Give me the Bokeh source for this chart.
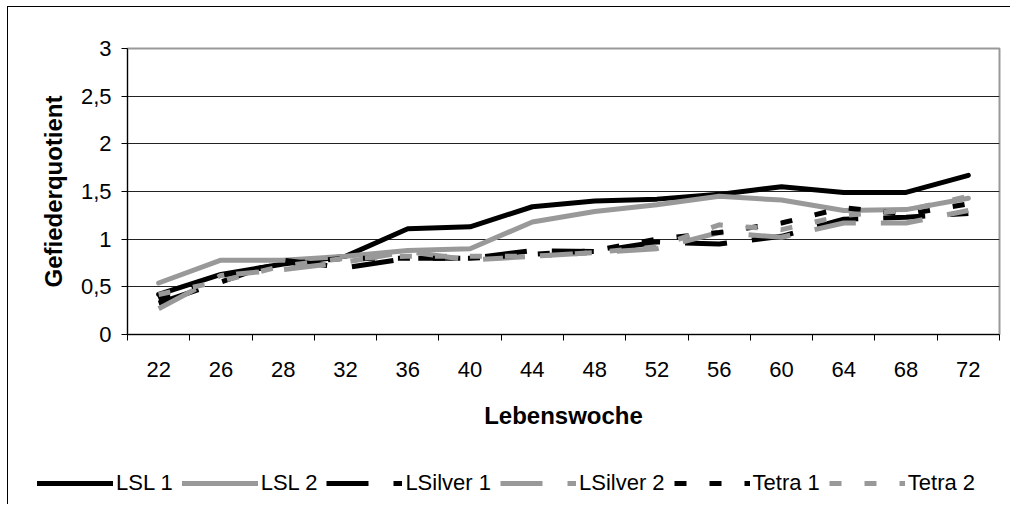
import numpy as np
from bokeh.plotting import figure
from bokeh.layouts import column
from bokeh.models import FixedTicker, Legend, LegendItem
from bokeh.embed import file_html
from bokeh.resources import INLINE

weeks = ["22", "26", "28", "32", "36", "40", "44", "48", "52", "56", "60", "64", "68", "72"]
lsl1 = [0.42, 0.63, 0.74, 0.82, 1.11, 1.13, 1.34, 1.40, 1.42, 1.47, 1.55, 1.49, 1.49, 1.67]
lsl2 = [0.54, 0.78, 0.78, 0.82, 0.88, 0.90, 1.18, 1.29, 1.36, 1.45, 1.41, 1.30, 1.31, 1.43]
lsilver1 = [0.33, 0.55, 0.78, 0.70, 0.80, 0.80, 0.88, 0.87, 0.97, 0.95, 1.03, 1.21, 1.23, 1.27]
lsilver2 = [0.27, 0.62, 0.68, 0.76, 0.87, 0.78, 0.82, 0.86, 0.90, 1.07, 1.02, 1.17, 1.17, 1.30]
tetra1 = [0.37, 0.62, 0.74, 0.80, 0.80, 0.80, 0.84, 0.88, 1.00, 1.07, 1.17, 1.33, 1.26, 1.37]
tetra2 = [0.42, 0.56, 0.72, 0.80, 0.82, 0.82, 0.82, 0.86, 0.92, 1.15, 1.10, 1.25, 1.30, 1.45]
y_ticks = [0, 0.5, 1, 1.5, 2, 2.5, 3]
y_labels = ["0", "0,5", "1", "1,5", "2", "2,5", "3"]

series = [
    ("LSL 1", lsl1, "black", None),
    ("LSL 2", lsl2, "#999999", None),
    ("LSilver 1", lsilver1, "black", "42 25"),
    ("LSilver 2", lsilver2, "#999999", "42 25"),
    ("Tetra 1", tetra1, "black", "12 23"),
    ("Tetra 2", tetra2, "#999999", "12 23"),
]

n = len(weeks)
xs = np.arange(n) + 0.5

FONT = "Liberation Sans"

p = figure(width=1002, height=437, output_backend="svg", toolbar_location=None,
           x_range=(0, n), y_range=(0, 3),
           min_border_left=119, min_border_top=41, min_border_right=11, min_border_bottom=110)
p.frame_align = False

p.outline_line_color = "#999999"
p.outline_line_width = 2
p.background_fill_color = "white"
p.border_fill_color = "white"

# x axis
p.xaxis.ticker = FixedTicker(ticks=list(xs), minor_ticks=list(range(n + 1)))
p.xaxis.major_label_overrides = {float(x): w for x, w in zip(xs, weeks)}
p.xaxis.major_tick_out = 0
p.xaxis.major_tick_in = 0
p.xaxis.minor_tick_out = 6
p.xaxis.minor_tick_in = 0
p.xaxis.minor_tick_line_color = "black"
p.xaxis.axis_line_color = "black"
p.xaxis.major_label_standoff = 21
p.xaxis.major_label_text_font = FONT
p.xaxis.major_label_text_font_size = "22px"
p.xaxis.major_label_text_color = "black"
p.xaxis.axis_label = "Lebenswoche"
p.xaxis.axis_label_text_font = FONT
p.xaxis.axis_label_text_font_size = "24px"
p.xaxis.axis_label_text_font_style = "bold"
p.xaxis.axis_label_text_color = "black"
p.xaxis.axis_label_standoff = 22

# y axis
p.yaxis.ticker = FixedTicker(ticks=y_ticks)
p.yaxis.major_label_overrides = {float(t): l for t, l in zip(y_ticks, y_labels)}
p.yaxis.major_tick_out = 6
p.yaxis.major_tick_in = 0
p.yaxis.minor_tick_out = 0
p.yaxis.minor_tick_in = 0
p.yaxis.axis_line_color = "black"
p.yaxis.major_tick_line_color = "black"
p.yaxis.major_label_standoff = 10
p.yaxis.major_label_text_font = FONT
p.yaxis.major_label_text_font_size = "22px"
p.yaxis.major_label_text_color = "black"
p.yaxis.axis_label = "Gefiederquotient"
p.yaxis.axis_label_text_font = FONT
p.yaxis.axis_label_text_font_size = "24px"
p.yaxis.axis_label_text_font_style = "bold"
p.yaxis.axis_label_text_color = "black"
p.yaxis.axis_label_standoff = 11

p.xgrid.grid_line_color = None
p.ygrid.grid_line_color = "#222222"
p.ygrid.grid_line_width = 1

# legend strip (separate figure below, holds only the key samples)
pl = figure(width=1002, height=60, output_backend="svg", toolbar_location=None,
            x_axis_type=None, y_axis_type=None, x_range=(0, 1), y_range=(0, 1),
            min_border=0)
pl.frame_align = False
pl.outline_line_color = None
pl.grid.grid_line_color = None
pl.background_fill_color = "white"
pl.border_fill_color = "white"

items = []
for name, vals, color, dash in series:
    kw = dict(line_color=color, line_width=5, line_join="round")
    if dash:
        kw["line_dash"] = dash
        kw["line_cap"] = "butt"
    else:
        kw["line_cap"] = "round"
    p.line(xs, vals, **kw)
    key = pl.line(x=[np.nan], y=[np.nan], **kw)
    items.append(LegendItem(label=name, renderers=[key]))

legend = Legend(items=items, orientation="horizontal", location=(29, 8),
                glyph_width=76, glyph_height=26, label_height=26,
                label_standoff=3, spacing=9,
                padding=0, margin=0, border_line_color=None,
                background_fill_alpha=0,
                label_text_font=FONT, label_text_font_size="22px",
                label_text_color="black")
pl.add_layout(legend, "center")

layout = column(p, pl, spacing=0)
layout.styles = {"margin-left": "7px", "margin-top": "6px",
                 "border-left": "1px solid black", "border-top": "1px solid black"}
open("out.html", "w").write(file_html(layout, INLINE))
